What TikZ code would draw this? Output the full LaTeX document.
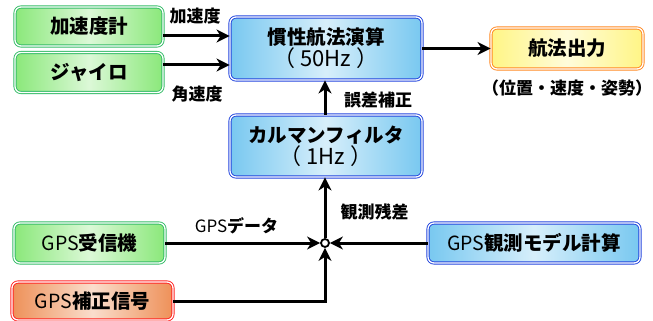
\documentclass[tikz,border=0pt]{standalone}
\usepackage{fontspec}
\setmainfont{Noto Sans CJK JP}
\usetikzlibrary{arrows.meta,calc}
\definecolor{greenline}{HTML}{33BB66}
\definecolor{greenfill}{HTML}{8AE87A}
\definecolor{blueline}{HTML}{2244DD}
\definecolor{bluefill}{HTML}{78C8F0}
\definecolor{yellowline}{HTML}{FF8822}
\definecolor{yellowfill}{HTML}{FFF585}
\definecolor{orangeline}{HTML}{FF2222}
\definecolor{orangefill}{HTML}{EE9058}
\newcommand{\hzline}[1]{{\fontsize{22}{21}\selectfont\mdseries （\hspace{5pt}#1\hspace{5pt}）}}
\begin{document}
\begin{tikzpicture}[x=1pt,y=-1pt,
  box/.style={rounded corners=6pt, draw=#1line, double=white, double distance=1.3pt,
    line width=0.9pt, left color=#1fill, right color=#1fill, middle color=#1fill!30!white,
    font=\fontsize{19.5}{20}\selectfont\bfseries, align=center, inner sep=0pt},
  lab/.style={font=\fontsize{17}{18}\selectfont\bfseries, inner sep=0pt},
  arr/.style={line width=3pt, -{Stealth[length=13pt,width=13pt,inset=4pt]}}]
\useasboundingbox (0,0) rectangle (653,321);
\node[box=green, minimum width=148pt, minimum height=39pt] (acc) at (89,26.5) {加速度計};
\node[box=green, minimum width=148pt, minimum height=40pt] (gyro) at (89,72.5) {ジャイロ};
\node[box=blue, minimum width=192pt, minimum height=63pt] (ins) at (326,48.5)
  {慣性航法演算\\[0pt]\hzline{50Hz}};
\node[box=yellow, minimum width=152pt, minimum height=41pt] (out) at (567,48.5) {航法出力};
\node[box=blue, minimum width=192pt, minimum height=62pt] (kf) at (326,146)
  {カルマンフィルタ\\[0pt]\hzline{1Hz}};
\node[box=blue, minimum width=212pt, minimum height=40pt] (gpsm) at (534,243)
  {{\mdseries GPS}観測モデル計算};
\node[box=green, minimum width=151pt, minimum height=40pt] (gpsr) at (89.5,243)
  {{\mdseries GPS}受信機};
\node[box=orange, minimum width=161pt, minimum height=38pt] (gpsc) at (92.5,301)
  {{\mdseries GPS}補正信号};
\node[circle, draw, line width=1.8pt, fill=white, minimum size=8pt, inner sep=0pt] (j) at (325,243) {};
\node[lab] (l1) at (195,16) {加速度};
\node[lab] (l2) at (197,94) {角速度};
\node[lab] (l3) at (378,100) {誤差補正};
\node[lab] (l4) at (374.5,212) {観測残差};
\node[lab] (l5) at (236.5,226) {{\mdseries GPS}データ};
\node[lab] (l6) at (567,88) {（位置・速度・姿勢）};
\coordinate (insA) at ($(ins.west)+(0,-12.5)$);
\coordinate (insB) at ($(ins.west)+(0,16.5)$);
\draw[arr] (acc.east |- insA) -- (insA);
\draw[arr] (gyro.east |- insB) -- (insB);
\draw[arr] (ins.east |- out.west) -- (out.west);
\draw[arr] (kf.north -| j) -- (ins.south -| j);
\draw[arr] (j.north) -- (kf.south -| j);
\draw[arr] (gpsm.west) -- (j.east);
\draw[arr] (gpsr.east) -- (j.west);
\draw[arr] (gpsc.east) -| (j.south);
\end{tikzpicture}
\end{document}
